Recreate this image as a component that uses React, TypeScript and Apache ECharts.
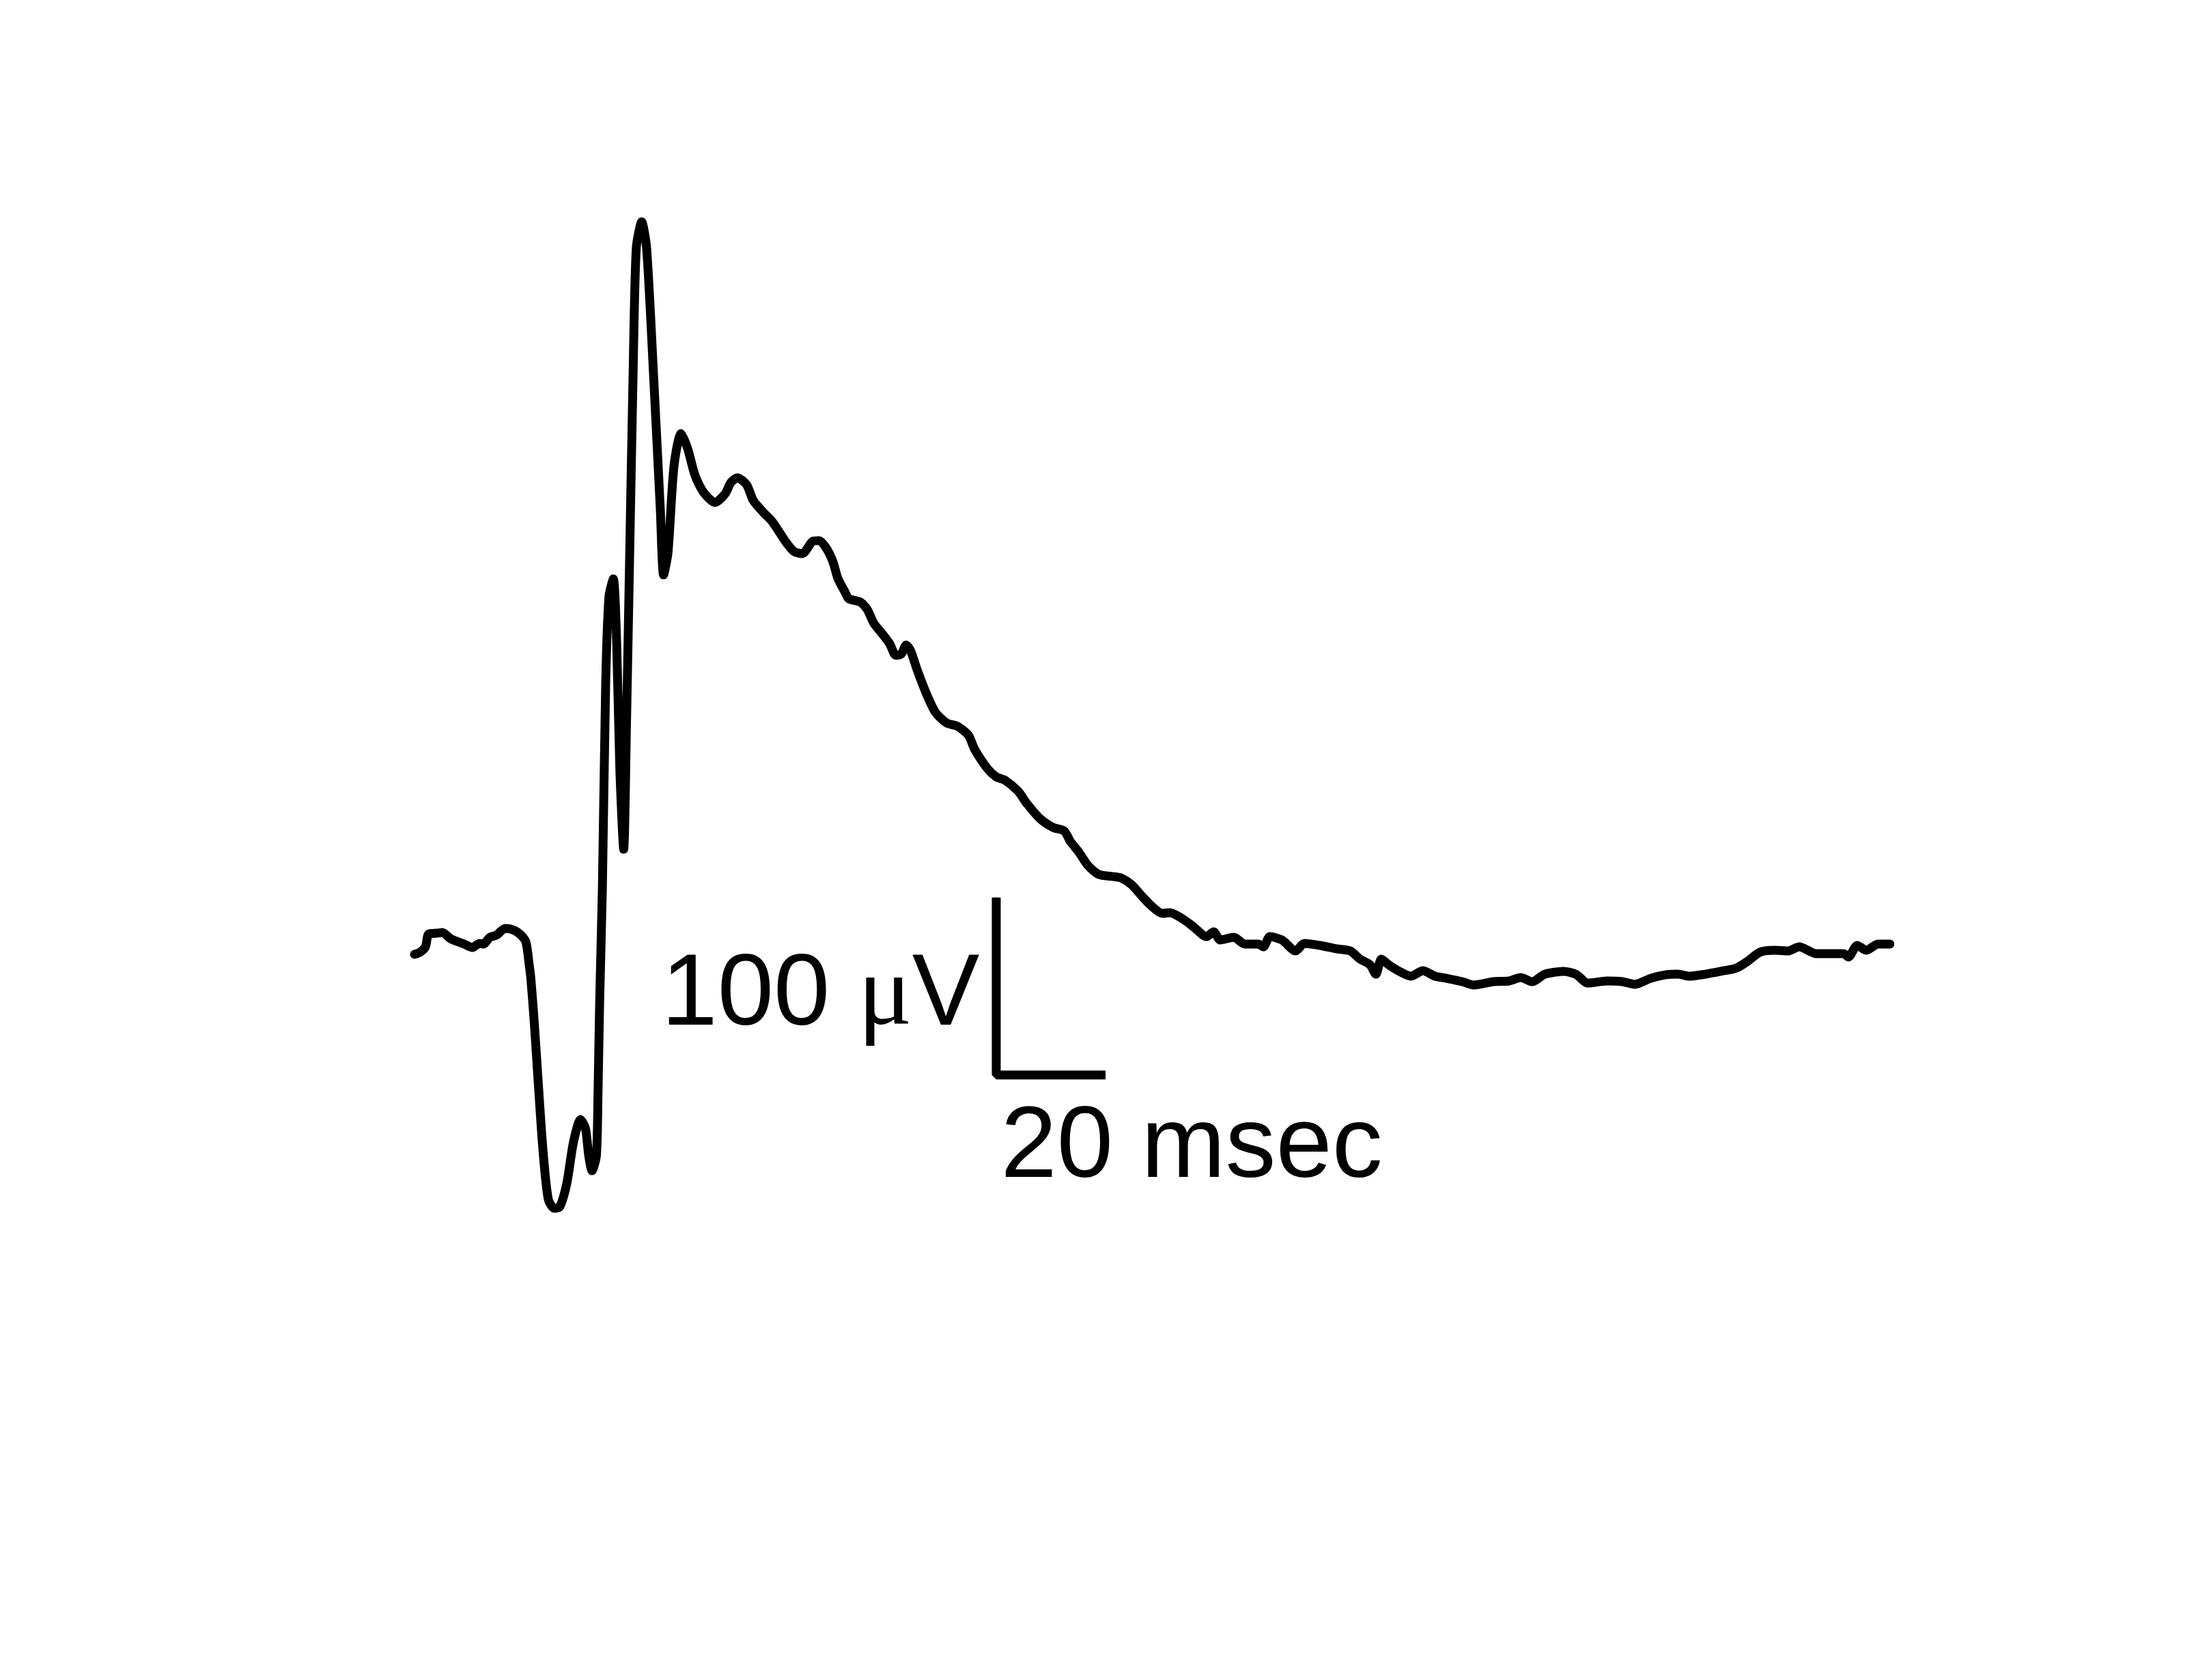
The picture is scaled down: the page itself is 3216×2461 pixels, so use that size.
import React, { useEffect, useRef } from "react";
import * as echarts from "echarts";

// Trace: time in ms, potential in µV
const timeMs: number[] = [
  0, 1.0, 2.0, 2.6, 4.1, 5.1, 6.6, 8.1, 9.1, 10.6, 11.9, 12.6, 13.8, 15.0, 16.6, 18.3, 19.5, 20.4,
  21.0, 21.3, 21.9, 22.5, 23.5, 24.5, 25.6, 26.6, 27.9, 29.1, 30.4, 31.3, 31.9, 32.5, 33.3, 33.6,
  33.9, 34.4, 35.0, 35.6, 36.4, 37.0, 37.6, 38.3, 38.8, 39.4, 40.0, 40.6, 41.6, 42.5, 43.8, 45.0,
  45.6, 46.4, 47.5, 48.8, 50.0, 51.3, 52.9, 55.0, 56.9, 57.9, 59.1, 60.8, 62.0, 63.8, 65.4, 66.6,
  67.9, 69.5, 71.0, 72.9, 74.1, 75.4, 76.6, 77.5, 78.8, 79.5, 81.6, 82.9, 84.1, 85.8, 87.0, 88.1,
  89.1, 90.0, 90.8, 92.1, 93.8, 95.4, 97.4, 99.4, 101.4, 102.5, 104.9, 106.5, 108.1, 110.5, 112.1,
  114.5, 116.9, 118.9, 120.1, 121.6, 123.3, 125.3, 128.0, 129.3, 131.3, 133.3, 134.9, 136.9, 138.3,
  140.8, 142.5, 145.0, 146.3, 147.5, 150.0, 152.0, 154.5, 155.4, 156.6, 158.8, 161.3, 162.9, 165.8,
  168.8, 171.3, 173.1, 174.9, 176.0, 177.0, 178.3, 180.3, 182.4, 184.6, 186.8, 188.9, 191.8, 193.9,
  197.5, 200.4, 202.5, 204.6, 206.9, 210.4, 212.6, 214.8, 218.3, 221.1, 223.4, 226.3, 229.1, 231.3,
  233.4, 236.3, 239.1, 242.0, 244.1, 246.3, 249.1, 251.4, 253.5, 256.6, 259.3, 261.6, 262.5, 264.1,
  265.8, 267.9, 270.1,
];
const voltageUv: number[] = [
  0, 1.2, 4.2, 11.5, 11.9, 12.3, 8.8, 6.9, 5.8, 3.8, 6.2, 5.8, 9.6, 10.8, 14.6, 13.5, 10.8, 6.9,
  -5.8, -13.5, -37.3, -65.0, -109.6, -138.1, -143.1, -142.3, -128.8, -105.8, -93.1, -98.1, -113.5, -121.9, -113.5, -77.7,
  -26.5, 37.7, 152.3, 201.5, 211.5, 176.9, 103.5, 59.2, 128.1, 226.2, 324.2, 397.7, 412.7, 397.7, 324.2, 250.8,
  213.8, 226.2, 275.0, 293.5, 285.0, 270.4, 260.4, 254.6, 259.6, 265.8, 268.5, 264.6, 255.8, 249.2, 244.2, 238.8,
  232.7, 226.9, 225.8, 232.7, 233.1, 228.8, 221.2, 211.9, 204.2, 200.4, 198.5, 194.2, 186.5, 180.0, 175.0, 168.5,
  169.2, 174.2, 171.2, 159.6, 146.2, 136.2, 130.4, 128.5, 123.5, 115.8, 104.6, 100.0, 98.1, 91.9, 85.0,
  76.5, 71.5, 69.6, 63.5, 57.7, 50.0, 45.0, 43.8, 43.1, 39.2, 32.3, 27.3, 23.1, 23.5,
  19.6, 15.8, 10.0, 12.7, 8.1, 9.6, 5.8, 5.8, 4.2, 10.0, 8.1, 1.9, 6.2, 5.0,
  3.1, 1.9, -2.7, -5.8, -11.2, -2.7, -5.8, -9.6, -12.3, -9.2, -12.3, -13.5, -15.4, -17.3,
  -15.4, -15.0, -13.1, -15.4, -11.2, -9.6, -11.2, -16.2, -15.0, -15.4, -16.9, -13.5, -11.5, -11.2,
  -12.3, -11.2, -9.6, -7.7, -3.8, 1.2, 2.3, 1.9, 4.2, 0.4, 0.4, 0.4, -1.5, 5.0,
  2.3, 5.8, 5.8,
];

// Scale bar: 100 µV vertical, 20 ms horizontal
const barTimeMs: number[] = [106.5, 106.5, 106.5, 126.5];
const barVoltageUv: number[] = [32.0, -20, -68.0, -68.0];
const voltLabel = "{a|100 }{b|μ}{a|V}";
const timeLabel = "20 msec";

export default function App() {
  const ref = useRef<HTMLDivElement>(null);
  useEffect(() => {
    if (!ref.current) return;
    const chart = echarts.init(ref.current, null, { renderer: "svg" });
    const trace = timeMs.map((t, i) => [t, voltageUv[i]]);
    const bar: any[] = barTimeMs.map((t, i) => ({ value: [t, barVoltageUv[i]] }));
    bar[1].label = {
      show: true,
      formatter: voltLabel,
      position: [-24, 0],
      align: "right",
      verticalAlign: "middle",
      rich: {
        a: { fontSize: 148, fontFamily: "Liberation Sans", color: "#000" },
        b: { fontSize: 148, fontFamily: "Liberation Serif", color: "#000" },
      },
    };
    bar[2].label = {
      show: true,
      formatter: timeLabel,
      position: [7, 98],
      align: "left",
      verticalAlign: "middle",
      fontSize: 148,
      fontFamily: "Liberation Sans",
      color: "#000",
    };
    chart.setOption({
      animation: false,
      backgroundColor: "#ffffff",
      grid: { left: 607, top: 228, width: 2160, height: 1690 },
      xAxis: { type: "value", min: 0, max: 270, show: false },
      yAxis: { type: "value", min: -200, max: 450, show: false },
      series: [
        {
          type: "line",
          data: trace,
          showSymbol: false,
          smooth: 0.25,
          lineStyle: { color: "#000", width: 13, cap: "round", join: "round" },
          silent: true,
        },
        {
          type: "line",
          data: bar,
          symbol: "circle",
          symbolSize: 1,
          showSymbol: true,
          itemStyle: { color: "#000" },
          lineStyle: { color: "#000", width: 13, cap: "butt", join: "bevel" },
          silent: true,
        },
      ],
    });
    return () => chart.dispose();
  }, []);
  return (
    <div
      ref={ref}
      style={{ position: "fixed", left: 0, top: 0, width: "3216px", height: "2461px", background: "#fff" }}
    />
  );
}
